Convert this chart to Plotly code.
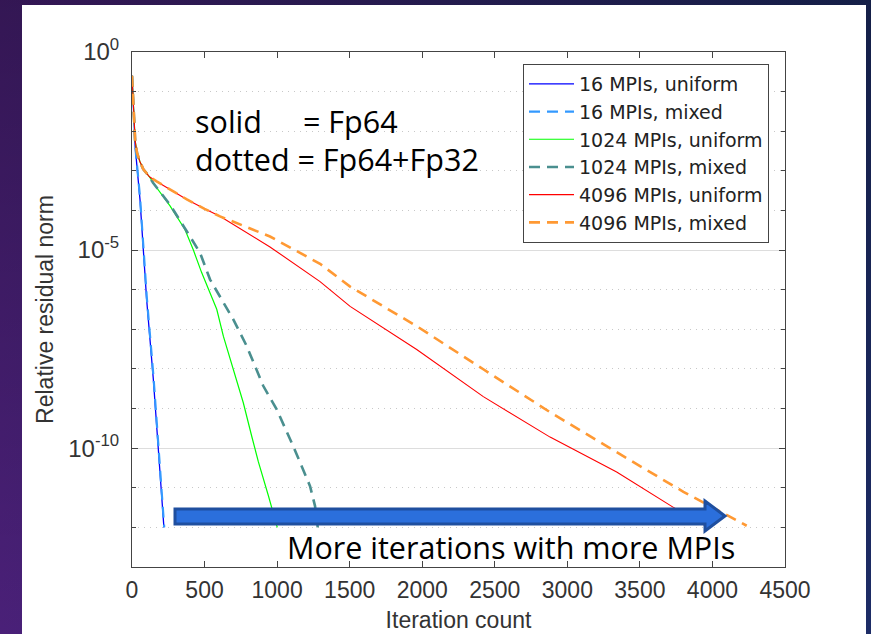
import base64
import plotly.graph_objects as go

# ---------------- data ----------------
it_16_uni = [0, 4, 9, 16, 22, 55, 101, 147, 180, 220]
res_16_uni = [2.5e-1, 1.3e-1, 7.6e-2, 1.3e-2, 4.0e-3, 1.9e-4, 5.6e-7, 5.5e-9, 1.0e-10, 1.0e-12]

it_16_mix = [0, 4, 9, 16, 23, 56, 102, 148, 182, 222]
res_16_mix = [2.5e-1, 1.3e-1, 7.6e-2, 1.3e-2, 4.0e-3, 2.0e-4, 6.3e-7, 6.3e-9, 1.1e-10, 1.0e-12]

it_1024_uni = [0, 4, 9, 16, 22, 35, 55, 78, 120, 145, 262, 365, 423, 480, 584, 630, 699, 767, 825, 871, 940, 1001]
res_1024_uni = [2.5e-1, 1.3e-1, 7.6e-2, 1.3e-2, 5.6e-3, 2.8e-3, 1.7e-3, 1.1e-3, 7.1e-4, 5.0e-4,
                1.3e-4, 3.3e-5, 1.0e-5, 2.7e-6, 3.2e-7, 6.6e-8, 9.8e-9, 1.4e-9, 2.0e-10, 4.5e-11, 6.3e-12, 1.0e-12]

it_1024_mix = [0, 4, 9, 16, 22, 35, 55, 78, 120, 145, 262, 400, 469, 538, 629, 697, 790, 905, 997, 1112, 1227, 1261, 1280]
res_1024_mix = [2.5e-1, 1.3e-1, 7.6e-2, 1.3e-2, 5.6e-3, 2.8e-3, 1.7e-3, 1.1e-3, 7.1e-4, 5.0e-4,
                1.4e-4, 2.2e-5, 8.5e-6, 1.8e-6, 4.8e-7, 1.8e-7, 3.8e-8, 3.7e-9, 9.5e-10, 1.1e-10, 1.1e-11, 3.5e-12, 1.0e-12]

it_4096_uni = [0, 4, 9, 16, 22, 35, 55, 78, 120, 170, 284, 378, 500, 606, 951, 1296, 1503, 1962, 2421, 2881, 3340, 3731, 3970]
res_4096_uni = [2.5e-1, 1.3e-1, 7.6e-2, 1.3e-2, 5.6e-3, 2.8e-3, 1.7e-3, 1.1e-3, 7.1e-4, 5.4e-4,
                3.0e-4, 1.9e-4, 1.1e-4, 7.1e-5, 1.2e-5, 1.6e-6, 3.8e-7, 3.1e-8, 2.0e-9, 1.9e-10,
                2.5e-11, 3.2e-12, 1.0e-12]

it_4096_mix = [0, 4, 9, 16, 22, 35, 55, 78, 120, 170, 284, 378, 500, 606, 951, 1296, 1503, 1962, 2421, 2881, 3340, 3800, 4236]
res_4096_mix = [2.5e-1, 1.3e-1, 7.6e-2, 1.3e-2, 5.6e-3, 2.8e-3, 1.7e-3, 1.1e-3, 7.1e-4, 5.4e-4,
                3.0e-4, 1.9e-4, 1.1e-4, 7.1e-5, 2.2e-5, 4.5e-6, 1.2e-6, 1.2e-7, 9.8e-9, 8.1e-10,
                7.9e-11, 7.9e-12, 1.1e-12]

series_names = ["16 MPIs, uniform", "16 MPIs, mixed", "1024 MPIs, uniform",
                "1024 MPIs, mixed", "4096 MPIs, uniform", "4096 MPIs, mixed"]

x_ticks = [0, 500, 1000, 1500, 2000, 2500, 3000, 3500, 4000, 4500]
y_major = [1e0, 1e-5, 1e-10]
y_major_text = ["10<sup>0</sup>", "10<sup>-5</sup>", "10<sup>-10</sup>"]
y_minor = [1e-1, 1e-2, 1e-3, 1e-4, 1e-6, 1e-7, 1e-8, 1e-9, 1e-11, 1e-12]

# ---------------- styles ----------------
W, H = 871, 634
L, R, T, B = 132, 785, 52, 567


def px(x):
    return (x - L) / (R - L)


def py(y):
    return (B - y) / (B - T)


styles = [
    dict(color="#0000ff", width=1.3, dash="solid"),
    dict(color="#3399ff", width=2.2, dash="11px,7px"),
    dict(color="#00ff00", width=1.2, dash="solid"),
    dict(color="#4a8f8f", width=2.6, dash="11px,7px"),
    dict(color="#ff0000", width=1.1, dash="solid"),
    dict(color="#ff9933", width=2.6, dash="11px,7px"),
]
xs = [it_16_uni, it_16_mix, it_1024_uni, it_1024_mix, it_4096_uni, it_4096_mix]
ys = [res_16_uni, res_16_mix, res_1024_uni, res_1024_mix, res_4096_uni, res_4096_mix]

fig = go.Figure()
for name, x, y, st in zip(series_names, xs, ys, styles):
    fig.add_trace(go.Scatter(x=x, y=y, mode="lines", name=name, line=st))

axis_font = dict(family="Liberation Sans, Arial, sans-serif", size=23, color="#333333")
yaxis_font = dict(family="Liberation Sans, Arial, sans-serif", size=24, color="#333333")
title_font = dict(family="Liberation Sans, Arial, sans-serif", size=23, color="#333333")

fig.update_xaxes(
    range=[0, 4500], tickvals=x_ticks, ticks="inside", ticklen=6, tickcolor="#444",
    showline=True, linecolor="#444", linewidth=1, mirror="ticks", showgrid=False,
    zeroline=False, tickfont=axis_font, ticklabelstandoff=2, automargin=False,
    title=dict(text="Iteration count", font=title_font, standoff=10),
)
fig.update_yaxes(
    type="log", range=[-13, 0], tickvals=y_major, ticktext=y_major_text,
    ticks="inside", ticklen=6, tickcolor="#444", showline=True, linecolor="#444",
    linewidth=1, mirror="ticks", showgrid=True, gridcolor="#dddddd", gridwidth=1,
    zeroline=False, tickfont=yaxis_font, ticklabelstandoff=7, automargin=False,
    minor=dict(tickvals=y_minor, ticks="inside", ticklen=4, tickcolor="#444",
               showgrid=True, gridcolor="#c8c8c8", griddash="1px,5px", gridwidth=1),
    title=dict(text="Relative residual norm", font=title_font, standoff=8),
)

# background gradient as svg image
svg = f'''<svg xmlns="http://www.w3.org/2000/svg" width="{W}" height="{H}">
<defs>
<linearGradient id="g" x1="0" y1="0" x2="1" y2="0">
<stop offset="0" stop-color="#4a2078"/><stop offset="1" stop-color="#1d2c66"/></linearGradient>
<linearGradient id="v" x1="0" y1="0" x2="0" y2="1">
<stop offset="0" stop-color="#000" stop-opacity="0.3"/><stop offset="1" stop-color="#000" stop-opacity="0"/></linearGradient>
</defs>
<rect width="{W}" height="{H}" fill="url(#g)"/><rect width="{W}" height="{H}" fill="url(#v)"/></svg>'''
src = "data:image/svg+xml;base64," + base64.b64encode(svg.encode()).decode()
fig.add_layout_image(dict(source=src, xref="paper", yref="paper", x=px(0), y=py(0),
                          sizex=px(W) - px(0), sizey=py(0) - py(H), xanchor="left", yanchor="top",
                          sizing="stretch", layer="below"))

fig.add_shape(type="rect", xref="paper", yref="paper", x0=px(22), x1=px(866), y0=py(5), y1=py(H + 10),
              fillcolor="white", line=dict(width=0), layer="below")

# arrow
pts = [(175, 509), (705, 509), (705, 501), (725, 516), (705, 531), (705, 524), (175, 524)]
path = "M " + " L ".join(f"{px(a):.5f},{py(b):.5f}" for a, b in pts) + " Z"
fig.add_shape(type="path", path=path, xref="paper", yref="paper", fillcolor="#2b6fdc",
              line=dict(color="#1f4f9f", width=3), layer="above")

txt_font = dict(family="Open Sans, Noto Sans, sans-serif", size=30.5, color="black")
fig.add_annotation(x=px(193), y=py(121), xref="paper", yref="paper", text="solid", showarrow=False,
                   xanchor="left", yanchor="middle", font=txt_font)
fig.add_annotation(x=px(301), y=py(121), xref="paper", yref="paper", text="= Fp64", showarrow=False,
                   xanchor="left", yanchor="middle", font=txt_font)
fig.add_annotation(x=px(193), y=py(159), xref="paper", yref="paper", text="dotted = Fp64+Fp32", showarrow=False,
                   xanchor="left", yanchor="middle", font=txt_font)
fig.add_annotation(x=px(511), y=py(547), xref="paper", yref="paper", text="More iterations with more MPIs",
                   showarrow=False, xanchor="center", yanchor="middle", font=txt_font)

fig.update_layout(
    width=W, height=H, autosize=False,
    margin=dict(l=L, r=W - R, t=T, b=H - B, autoexpand=False),
    paper_bgcolor="#2c1a52", plot_bgcolor="white",
    showlegend=True,
    legend=dict(x=px(523), y=py(64), xanchor="left", yanchor="top",
                bgcolor="white", bordercolor="#444", borderwidth=1,
                font=dict(family="DejaVu Sans, sans-serif", size=19, color="#222"),
                tracegroupgap=0, itemwidth=45),
)

fig.write_html("out.html")
